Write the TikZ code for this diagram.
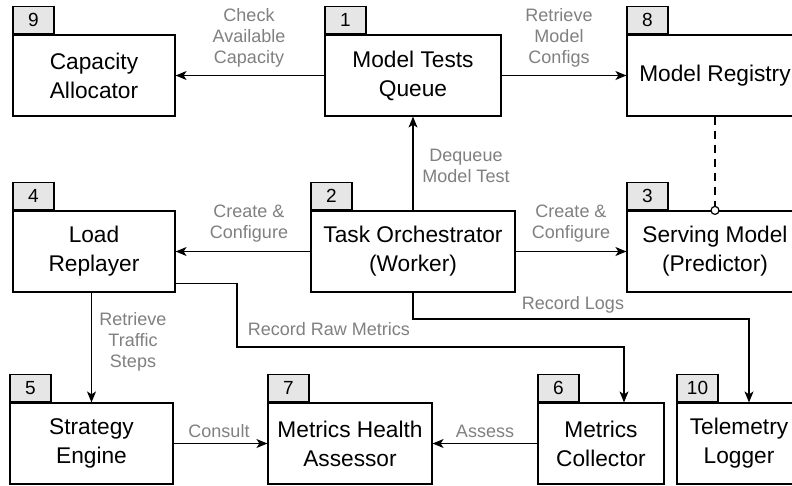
\documentclass[tikz,border=0pt]{standalone}
\usepackage{fontspec}
\setmainfont{Liberation Sans}
\usetikzlibrary{arrows.meta,calc}
\definecolor{tabfill}{HTML}{E6E6E6}
\definecolor{lblgray}{HTML}{808080}
\tikzset{
  box/.style={draw=black, line width=1.2pt, fill=white, minimum height=81pt, inner sep=2pt, align=center, font=\fontsize{22.7}{29}\selectfont},
  tabbox/.style={draw=black, line width=1.2pt, fill=tabfill, minimum width=41pt, minimum height=27pt, inner sep=0pt, anchor=south west, font=\fontsize{19}{22}\selectfont},
  conn/.style={line width=1.2pt, -{Stealth[length=11pt,width=9pt,inset=3pt]}},
  lbl/.style={text=lblgray, align=center, inner sep=0pt, font=\fontsize{18}{21}\selectfont}
}
\begin{document}
\begin{tikzpicture}[x=1pt,y=-1pt]
\useasboundingbox (0,0) rectangle (792,485);
\clip (0,0) rectangle (792,485);
\fill[white] (0,0) rectangle (792,485);
% boxes
\node[box, minimum width=162pt] (alloc) at (94,75.5) {Capacity\\Allocator};
\node[box, minimum width=176pt] (q) at (413,75.5) {Model Tests\\Queue};
\node[box, minimum width=176pt] (reg) at (715,75.5) {Model Registry};
\node[box, minimum width=162pt] (load) at (94,251.5) {Load\\Replayer};
\node[box, minimum width=204pt] (orch) at (413,251.5) {Task Orchestrator\\(Worker)};
\node[box, minimum width=176pt] (serv) at (715,251.5) {Serving Model\\(Predictor)};
\node[box, minimum width=163pt] (strat) at (91.5,443.5) {Strategy\\Engine};
\node[box, minimum width=164pt] (health) at (350,443.5) {Metrics Health\\Assessor};
\node[box, minimum width=126pt] (coll) at (601,443.5) {Metrics\\Collector};
\node[box, minimum width=124pt] (log) at (739,443.5) {Telemetry\\Logger};
% tabs
\node[tabbox] (t9) at (alloc.north west) {9};
\node[tabbox] (t1) at (q.north west) {1};
\node[tabbox] (t8) at (reg.north west) {8};
\node[tabbox] (t4) at (load.north west) {4};
\node[tabbox] (t2) at (orch.north west) {2};
\node[tabbox] (t3) at (serv.north west) {3};
\node[tabbox] (t5) at (strat.north west) {5};
\node[tabbox] (t7) at (health.north west) {7};
\node[tabbox] (t6) at (coll.north west) {6};
\node[tabbox] (t10) at (log.north west) {10};
% connectors
\draw[conn] (q.west) -- (alloc.east);
\draw[conn] (q.east) -- (reg.west);
\draw[conn] (orch.north) -- (q.south);
\draw[conn] (orch.west) -- (load.east);
\draw[conn] (orch.east) -- (serv.west);
\draw[line width=1.2pt, dash pattern=on 8pt off 6pt] (reg.south) -- (serv.north);
\draw[line width=1.2pt, fill=white] (serv.north) circle (4pt);
\draw[conn] (load.south -| strat.north) -- (strat.north);
\coordinate (rm) at (237,347);
\draw[conn] ($(load.south east)+(0,-9)$) -| (rm) -| ($(coll.north)+(23,0)$);
\coordinate (lg) at (749,319);
\draw[conn] (orch.south) |- (lg) -- (lg |- log.north);
\draw[conn] (strat.east) -- (health.west);
\draw[conn] (coll.west) -- (health.east);
% labels
\node[lbl] (l1) at (249,38) {Check\\Available\\Capacity};
\node[lbl] (l2) at (559,38) {Retrieve\\Model\\Configs};
\node[lbl] (l3) at (466,166) {Dequeue\\Model Test};
\node[lbl] (l4) at (249,224) {Create \&\\Configure};
\node[lbl] (l5) at (571,224) {Create \&\\Configure};
\node[lbl] (l6) at (133,342) {Retrieve\\Traffic\\Steps};
\node[lbl] (l7) at (329,329) {Record Raw Metrics};
\node[lbl] (l8) at (573,305) {Record Logs};
\node[lbl] (l9) at (219,431) {Consult};
\node[lbl] (l10) at (485,431) {Assess};
\end{tikzpicture}
\end{document}
